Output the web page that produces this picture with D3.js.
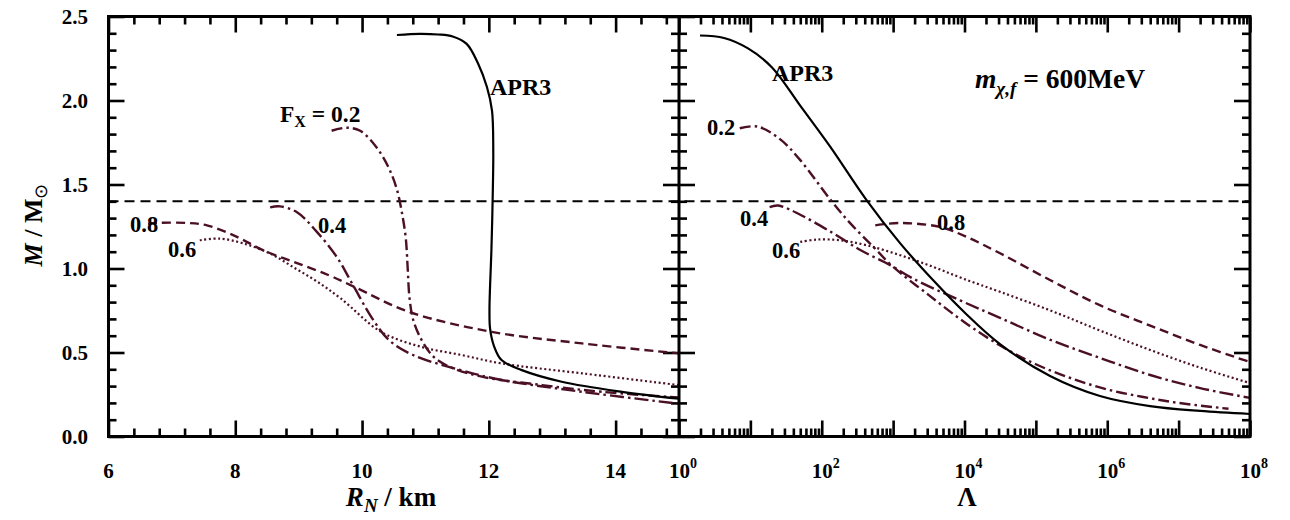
<!DOCTYPE html>
<html>
<head>
<meta charset="utf-8">
<script src="https://cdn.jsdelivr.net/npm/d3@7"></script>
<style>
  html, body { margin: 0; padding: 0; background: #fff; }
  svg { display: block; }
  text { font-family: "Liberation Serif", "Times New Roman", serif; font-weight: bold; fill: #000; }
</style>
</head>
<body>
<svg id="chart" width="1290" height="520" font-family="Liberation Serif"></svg>
<script>
// ---- Mass–radius panel (left): radius R_N in km, mass in solar masses ----
const apr3R = [10.55, 10.91, 11.2, 11.43, 11.65, 11.83, 11.97, 12.05, 12.07, 12.06, 12.04, 12.02, 12.01, 12.02, 12.08, 12.2, 12.52, 13.15, 14.1, 15.0];
const apr3M = [2.39, 2.397, 2.393, 2.381, 2.337, 2.22, 2.08, 1.94, 1.7, 1.41, 1.1, 0.9, 0.75, 0.64, 0.54, 0.455, 0.395, 0.326, 0.266, 0.225];

const f02R = [9.52, 9.76, 9.97, 10.23, 10.42, 10.55, 10.63, 10.69, 10.72, 10.75, 10.81, 10.94, 11.13, 11.38, 11.89, 12.84, 13.78, 15.0];
const f02M = [1.82, 1.838, 1.82, 1.72, 1.6, 1.47, 1.33, 1.18, 1.0, 0.82, 0.69, 0.574, 0.474, 0.415, 0.356, 0.306, 0.266, 0.232];

const f04R = [8.55, 8.705, 8.974, 9.273, 9.604, 9.857, 10.157, 10.425, 10.804, 11.56, 12.21, 13.47, 15.0];
const f04M = [1.364, 1.37, 1.335, 1.224, 1.067, 0.901, 0.705, 0.574, 0.485, 0.395, 0.336, 0.266, 0.195];

const f06R = [7.44, 7.76, 8.13, 8.55, 8.95, 9.3, 9.67, 10.3, 10.93, 11.57, 12.2, 13.47, 15.0];
const f06M = [1.168, 1.178, 1.149, 1.089, 1.0, 0.92, 0.82, 0.623, 0.534, 0.485, 0.435, 0.376, 0.306];

const f08R = [6.623, 6.812, 7.238, 7.554, 8.027, 8.437, 8.974, 9.494, 9.888, 10.74, 12.045, 13.47, 15.0];
const f08M = [1.266, 1.272, 1.271, 1.257, 1.188, 1.109, 1.032, 0.957, 0.889, 0.742, 0.623, 0.554, 0.495];

// ---- Mass–tidal deformability panel (right) ----
const apr3L  = [1.97, 4.27, 9.27, 20.1, 49.6, 130.5, 417, 1250, 3620, 1.02e4, 3.14e4, 1.58e5, 7.9e5, 3.97e6, 2e7, 1e8];
const apr3LM = [2.387, 2.372, 2.31, 2.197, 1.971, 1.727, 1.412, 1.151, 0.931, 0.735, 0.55, 0.36, 0.241, 0.181, 0.152, 0.134];

const f02L  = [7.1, 12.6, 26, 50, 132, 250, 525, 1000, 3200, 1e4, 3.2e4, 1e5, 3.2e5, 1e6, 3.2e6, 1e7, 5e7];
const f02LM = [1.835, 1.845, 1.77, 1.645, 1.41, 1.27, 1.13, 1.01, 0.84, 0.68, 0.54, 0.43, 0.345, 0.28, 0.235, 0.2, 0.165];

const f04L  = [18.6, 24.5, 50, 132, 347, 912, 1900, 8700, 3.2e4, 1.6e5, 8e5, 4e6, 2e7, 1e8];
const f04LM = [1.366, 1.375, 1.32, 1.22, 1.11, 1.02, 0.94, 0.81, 0.705, 0.575, 0.467, 0.366, 0.288, 0.23];

const f06L  = [50, 85, 182, 427, 1260, 3630, 9550, 3.2e4, 1.6e5, 8e5, 4e6, 2e7, 1e8];
const f06LM = [1.158, 1.172, 1.168, 1.138, 1.079, 1.01, 0.94, 0.86, 0.75, 0.63, 0.515, 0.41, 0.318];

const f08L  = [562, 1260, 4570, 1.07e4, 3.2e4, 1.6e5, 8e5, 4e6, 2e7, 1e8];
const f08LM = [1.257, 1.271, 1.247, 1.188, 1.089, 0.93, 0.78, 0.66, 0.545, 0.443];

// Reference mass line
const refMass = 1.4;

// Tick values and labels
const rMajor = [6, 8, 10, 12, 14];
const rMinor = [6.4, 6.8, 7.2, 7.6, 8.4, 8.8, 9.2, 9.6, 10.4, 10.8, 11.2, 11.6, 12.4, 12.8, 13.2, 13.6, 14.4, 14.8];
const mMajor = [0, 0.5, 1.0, 1.5, 2.0, 2.5];
const mMinor = [0.1, 0.2, 0.3, 0.4, 0.6, 0.7, 0.8, 0.9, 1.1, 1.2, 1.3, 1.4, 1.6, 1.7, 1.8, 1.9, 2.1, 2.2, 2.3, 2.4];
const lamMajor = [1e0, 1e1, 1e2, 1e3, 1e4, 1e5, 1e6, 1e7, 1e8];
const lamLabelExp = [0, 2, 4, 6, 8];

// ---- layout ----
const svg = d3.select("#chart");
const yTop = 16.5, yBottom = 436.5;
const xL = d3.scaleLinear().domain([6, 15]).range([108.5, 679]);
const xR = d3.scaleLog().domain([1, 1e8]).range([679, 1250]);
const y = d3.scaleLinear().domain([0, 2.5]).range([yBottom, yTop]);

const lamMinor = [];
lamMajor.slice(0, -1).forEach(d => { for (let k = 2; k <= 9; k++) lamMinor.push(d * k); });

const maroon = "#4b0f26";
const MAJ = 16, MIN = 8;

// axis helper: inward ticks, no labels, no domain path
function ticks(axisFn, scale, values, size, transform) {
  const g = svg.append("g")
    .attr("transform", transform)
    .call(axisFn(scale).tickValues(values).tickSize(-size).tickSizeOuter(0).tickFormat(""));
  g.select(".domain").remove();
  g.selectAll(".tick line").attr("stroke", "#000").attr("stroke-width", 2.6);
  return g;
}

// left panel ticks
ticks(d3.axisBottom, xL, rMajor, MAJ, `translate(0,${yBottom})`);
ticks(d3.axisBottom, xL, rMinor, MIN, `translate(0,${yBottom})`);
ticks(d3.axisTop, xL, rMajor, MAJ, `translate(0,${yTop})`);
ticks(d3.axisTop, xL, rMinor, MIN, `translate(0,${yTop})`);
ticks(d3.axisLeft, y, mMajor, MAJ, `translate(${xL.range()[0]},0)`);
ticks(d3.axisLeft, y, mMinor, MIN, `translate(${xL.range()[0]},0)`);
ticks(d3.axisRight, y, mMajor, MAJ, `translate(${xL.range()[1]},0)`);
ticks(d3.axisRight, y, mMinor, MIN, `translate(${xL.range()[1]},0)`);

// right panel ticks
ticks(d3.axisBottom, xR, lamMajor, MAJ, `translate(0,${yBottom})`);
ticks(d3.axisBottom, xR, lamMinor, MIN, `translate(0,${yBottom})`);
ticks(d3.axisTop, xR, lamMajor, MAJ, `translate(0,${yTop})`);
ticks(d3.axisTop, xR, lamMinor, MIN, `translate(0,${yTop})`);
ticks(d3.axisLeft, y, mMajor, MAJ, `translate(${xR.range()[0]},0)`);
ticks(d3.axisLeft, y, mMinor, MIN, `translate(${xR.range()[0]},0)`);
ticks(d3.axisRight, y, mMajor, MAJ, `translate(${xR.range()[1]},0)`);
ticks(d3.axisRight, y, mMinor, MIN, `translate(${xR.range()[1]},0)`);

// reference line at 1.4 solar masses
svg.append("line")
  .attr("x1", xL.range()[0]).attr("x2", xR.range()[1])
  .attr("y1", y(refMass)).attr("y2", y(refMass))
  .attr("stroke", "#000").attr("stroke-width", 2).attr("stroke-dasharray", "10,6");

// curves
function curve(xs, ys, xScale, color, dash, width) {
  const pts = xs.map((d, i) => [d, ys[i]]);
  const line = d3.line()
    .x(d => xScale(d[0])).y(d => y(d[1]))
    .curve(d3.curveCatmullRom.alpha(0.5));
  svg.append("path")
    .attr("d", line(pts))
    .attr("fill", "none")
    .attr("stroke", color)
    .attr("stroke-width", width)
    .attr("stroke-dasharray", dash)
    .attr("stroke-linecap", "butt");
}

const styles = {
  apr3: ["#000", null, 2.2],
  f02: [maroon, "11,4,2.5,4", 2.4],
  f04: [maroon, "14,4,2.5,4", 2.4],
  f06: [maroon, "2,2.6", 2.2],
  f08: [maroon, "9,5", 2.4]
};

curve(f08R, f08M, xL, ...styles.f08);
curve(f06R, f06M, xL, ...styles.f06);
curve(f04R, f04M, xL, ...styles.f04);
curve(f02R, f02M, xL, ...styles.f02);
curve(apr3R, apr3M, xL, ...styles.apr3);

curve(f08L, f08LM, xR, ...styles.f08);
curve(f06L, f06LM, xR, ...styles.f06);
curve(f04L, f04LM, xR, ...styles.f04);
curve(f02L, f02LM, xR, ...styles.f02);
curve(apr3L, apr3LM, xR, ...styles.apr3);

// frames
svg.append("rect")
  .attr("x", xL.range()[0]).attr("y", yTop)
  .attr("width", xR.range()[1] - xL.range()[0]).attr("height", yBottom - yTop)
  .attr("fill", "none").attr("stroke", "#000").attr("stroke-width", 3);
svg.append("line")
  .attr("x1", xR.range()[0]).attr("x2", xR.range()[0])
  .attr("y1", yTop).attr("y2", yBottom)
  .attr("stroke", "#000").attr("stroke-width", 3);

// tick labels
const tickFont = 21;
svg.append("g").selectAll("text").data(mMajor).join("text")
  .attr("x", 88).attr("y", d => y(d)).attr("dy", "0.35em")
  .attr("text-anchor", "end").attr("font-size", tickFont)
  .text(d => d.toFixed(1));

svg.append("g").selectAll("text").data(rMajor).join("text")
  .attr("x", d => xL(d)).attr("y", 478)
  .attr("text-anchor", "middle").attr("font-size", tickFont)
  .text(d => d);

const lamLab = svg.append("g").selectAll("text").data(lamLabelExp).join("text")
  .attr("x", d => xR(Math.pow(10, d)) + 4).attr("y", 478)
  .attr("text-anchor", "middle").attr("font-size", tickFont);
lamLab.append("tspan").text("10");
lamLab.append("tspan").attr("dy", -10).attr("font-size", 14).text(d => d);

// axis titles
const yt = svg.append("text")
  .attr("transform", "translate(42,225) rotate(-90)")
  .attr("text-anchor", "middle").attr("font-size", 26);
yt.append("tspan").attr("font-style", "italic").text("M");
yt.append("tspan").text(" / M");
yt.append("tspan").attr("font-size", 18).attr("dy", 5).attr("font-weight", "normal").text("⊙");

const xt = svg.append("text")
  .attr("x", 391).attr("y", 506).attr("text-anchor", "middle").attr("font-size", 27);
xt.append("tspan").attr("font-style", "italic").text("R");
xt.append("tspan").attr("font-style", "italic").attr("font-size", 19).attr("dy", 6).text("N");
xt.append("tspan").attr("dy", -6).text(" / km");

svg.append("text").attr("x", 967).attr("y", 506).attr("text-anchor", "middle")
  .attr("font-size", 27).text("Λ");

// curve annotations
const labFont = 22.5;
function label(x, yy, txt, size) {
  svg.append("text").attr("x", x).attr("y", yy).attr("font-size", size || labFont).text(txt);
}
label(490, 95, "APR3", 24);
label(130, 232, "0.8");
label(168, 257, "0.6");
label(318, 233, "0.4");

const fx = svg.append("text").attr("x", 280).attr("y", 122).attr("font-size", 23.5);
fx.append("tspan").text("F");
fx.append("tspan").attr("font-size", 16).attr("dy", 5).text("X");
fx.append("tspan").attr("dy", -5).text(" = 0.2");

label(772, 81, "APR3", 24);
label(707, 135, "0.2");
label(740, 226, "0.4");
label(937, 230, "0.8");
label(772, 258, "0.6");

const mt = svg.append("text").attr("x", 975).attr("y", 88).attr("font-size", 27.5);
mt.append("tspan").attr("font-style", "italic").text("m");
mt.append("tspan").attr("font-style", "italic").attr("font-size", 19).attr("dy", 7).text("χ,f");
mt.append("tspan").attr("dy", -7).text(" = 600MeV");
</script>
</body>
</html>
